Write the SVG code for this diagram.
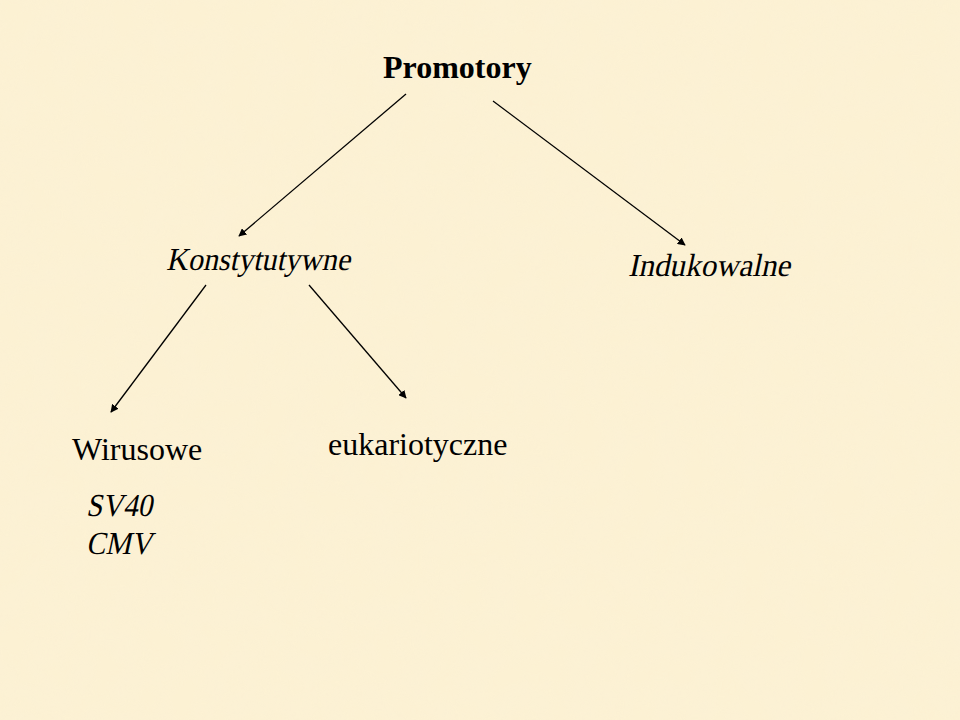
<svg xmlns="http://www.w3.org/2000/svg" width="960" height="720" viewBox="0 0 960 720">
<defs>
<style>
.t{font-family:"Liberation Serif","Times New Roman",serif;font-size:32px;fill:#000}
.b{font-weight:bold}
.c line{stroke:#000;stroke-width:1.3;fill:none}
</style>
<marker id="ah" viewBox="0 0 10 10" refX="9" refY="5" markerWidth="8" markerHeight="8" markerUnits="userSpaceOnUse" orient="auto">
<path d="M0,0 L10,5 L0,10 Z" fill="#000"/>
</marker>
<filter id="tex" x="0" y="0" width="100%" height="100%">
<feTurbulence type="fractalNoise" baseFrequency="0.035" numOctaves="3" seed="4" result="n"/>
<feColorMatrix in="n" type="matrix" values="0 0 0 0 0.95  0 0 0 0 0.87  0 0 0 0 0.70  0 0 0 0.5 -0.12"/>
</filter>
</defs>
<rect width="960" height="720" fill="#FCF1D3"/>
<rect width="960" height="720" filter="url(#tex)" opacity="0.7"/>
<g class="c" id="connectors">
<line x1="406" y1="94" x2="239" y2="236" marker-end="url(#ah)"/>
<line x1="493" y1="101" x2="685" y2="245" marker-end="url(#ah)"/>
<line x1="206" y1="285" x2="111" y2="412" marker-end="url(#ah)"/>
<line x1="309" y1="285" x2="406" y2="398" marker-end="url(#ah)"/>
</g>
<g id="promotory"><text class="t b" x="383" y="78">Promotory</text></g>
<g id="konstytutywne"><text class="t" transform="translate(166,270) skewX(-12)" x="0" y="0" textLength="184" lengthAdjust="spacingAndGlyphs">Konstytutywne</text></g>
<g id="indukowalne"><text class="t" transform="translate(628,276) skewX(-12)" x="0" y="0" textLength="162" lengthAdjust="spacingAndGlyphs">Indukowalne</text></g>
<g id="wirusowe"><text class="t" x="72" y="460">Wirusowe</text>
<text class="t" transform="translate(86,516) skewX(-12)" x="0" y="0" textLength="66" lengthAdjust="spacingAndGlyphs">SV40</text>
<text class="t" transform="translate(86,554) skewX(-12)" x="0" y="0" textLength="66" lengthAdjust="spacingAndGlyphs">CMV</text></g>
<g id="eukariotyczne"><text class="t" x="328" y="455">eukariotyczne</text></g>
</svg>
